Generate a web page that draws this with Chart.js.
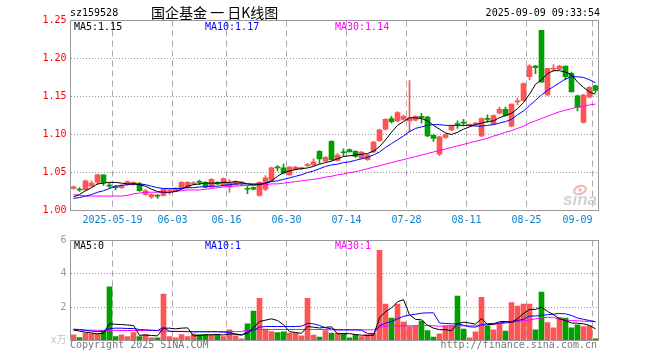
<!DOCTYPE html>
<html><head><meta charset="utf-8">
<script src="https://cdn.jsdelivr.net/npm/chart.js@4.4.1/dist/chart.umd.min.js"></script>
<style>
html,body{margin:0;padding:0;background:#fff;width:660px;height:360px;overflow:hidden}
#c1{position:absolute;left:0;top:0;width:660px;height:235px}
#c2{position:absolute;left:0;top:230px;width:660px;height:130px}
</style></head><body>
<canvas id="c1" width="660" height="235"></canvas>
<canvas id="c2" width="660" height="130"></canvas>
<script>
// ---------- DATA ----------
const dates = ['2025-05-08','2025-05-09','2025-05-12','2025-05-13','2025-05-14','2025-05-15','2025-05-16','2025-05-19','2025-05-20','2025-05-21',
'2025-05-22','2025-05-23','2025-05-26','2025-05-27','2025-05-28','2025-05-29','2025-05-30','2025-06-03','2025-06-04','2025-06-05',
'2025-06-06','2025-06-09','2025-06-10','2025-06-11','2025-06-12','2025-06-13','2025-06-16','2025-06-17','2025-06-18','2025-06-19',
'2025-06-20','2025-06-23','2025-06-24','2025-06-25','2025-06-26','2025-06-27','2025-06-30','2025-07-01','2025-07-02','2025-07-03',
'2025-07-04','2025-07-07','2025-07-08','2025-07-09','2025-07-10','2025-07-11','2025-07-14','2025-07-15','2025-07-16','2025-07-17',
'2025-07-18','2025-07-21','2025-07-22','2025-07-23','2025-07-24','2025-07-25','2025-07-28','2025-07-29','2025-07-30','2025-07-31',
'2025-08-01','2025-08-04','2025-08-05','2025-08-06','2025-08-07','2025-08-08','2025-08-11','2025-08-12','2025-08-13','2025-08-14',
'2025-08-15','2025-08-18','2025-08-19','2025-08-20','2025-08-21','2025-08-22','2025-08-25','2025-08-26','2025-08-27','2025-08-28',
'2025-08-29','2025-09-01','2025-09-02','2025-09-03','2025-09-04','2025-09-05','2025-09-08','2025-09-09'];

const open = [1.029,1.028,1.027,1.032,1.037,1.047,1.033,1.031,1.030,1.034,
1.034,1.035,1.021,1.018,1.020,1.020,1.026,1.026,1.029,1.030,
1.035,1.038,1.037,1.031,1.037,1.033,1.031,1.034,1.036,1.029,
1.030,1.020,1.028,1.040,1.057,1.056,1.047,1.054,1.055,1.059,
1.060,1.078,1.065,1.091,1.066,1.077,1.080,1.078,1.069,1.067,
1.077,1.092,1.107,1.121,1.118,1.120,1.118,1.119,1.124,1.123,
1.099,1.074,1.096,1.106,1.114,1.116,1.112,1.113,1.098,1.121,
1.114,1.128,1.133,1.111,1.143,1.145,1.176,1.190,1.237,1.152,
1.186,1.186,1.190,1.180,1.151,1.116,1.149,1.164];
const high = [1.032,1.030,1.040,1.039,1.048,1.047,1.036,1.033,1.034,1.039,
1.038,1.037,1.028,1.022,1.021,1.029,1.028,1.030,1.038,1.038,
1.038,1.040,1.038,1.042,1.038,1.043,1.041,1.039,1.038,1.032,
1.031,1.038,1.046,1.057,1.059,1.061,1.058,1.058,1.057,1.062,
1.068,1.079,1.071,1.092,1.075,1.081,1.081,1.079,1.078,1.074,
1.091,1.107,1.121,1.124,1.130,1.126,1.171,1.125,1.128,1.124,
1.100,1.098,1.101,1.112,1.118,1.120,1.114,1.116,1.122,1.126,
1.126,1.136,1.136,1.140,1.148,1.168,1.192,1.191,1.237,1.187,
1.192,1.191,1.190,1.182,1.152,1.153,1.163,1.165];
const low = [1.028,1.025,1.026,1.031,1.034,1.033,1.029,1.027,1.029,1.033,
1.033,1.025,1.020,1.016,1.016,1.019,1.021,1.025,1.028,1.029,
1.034,1.034,1.030,1.030,1.034,1.032,1.024,1.033,1.032,1.022,
1.027,1.019,1.026,1.039,1.052,1.048,1.046,1.053,1.054,1.058,
1.059,1.062,1.064,1.066,1.065,1.072,1.077,1.070,1.068,1.066,
1.076,1.091,1.106,1.115,1.117,1.119,1.103,1.118,1.115,1.097,
1.091,1.072,1.095,1.105,1.108,1.111,1.111,1.112,1.097,1.116,
1.113,1.127,1.124,1.110,1.139,1.144,1.172,1.180,1.169,1.151,
1.183,1.185,1.172,1.156,1.131,1.115,1.148,1.155];
const close = [1.031,1.027,1.039,1.036,1.047,1.037,1.032,1.030,1.033,1.038,
1.037,1.026,1.026,1.021,1.019,1.028,1.027,1.029,1.037,1.037,
1.036,1.037,1.031,1.041,1.035,1.042,1.036,1.038,1.037,1.028,
1.028,1.037,1.043,1.056,1.056,1.049,1.057,1.057,1.056,1.060,
1.064,1.068,1.070,1.067,1.073,1.076,1.077,1.071,1.077,1.073,
1.090,1.106,1.120,1.117,1.129,1.124,1.122,1.124,1.122,1.098,
1.095,1.097,1.100,1.111,1.113,1.115,1.113,1.115,1.121,1.120,
1.125,1.133,1.125,1.140,1.144,1.167,1.190,1.188,1.169,1.187,
1.187,1.190,1.176,1.156,1.136,1.152,1.162,1.158];

const ma5 = [1.018,1.021,1.026,1.030,1.035,1.036,1.037,1.037,1.036,1.035,
1.035,1.034,1.032,1.028,1.025,1.024,1.024,1.025,1.028,1.032,
1.034,1.035,1.036,1.036,1.036,1.037,1.037,1.038,1.037,1.035,
1.034,1.034,1.036,1.039,1.045,1.050,1.052,1.054,1.055,1.056,
1.058,1.061,1.063,1.065,1.068,1.071,1.072,1.073,1.074,1.075,
1.078,1.084,1.093,1.103,1.112,1.117,1.122,1.122,1.121,1.118,
1.112,1.107,1.102,1.100,1.103,1.107,1.110,1.113,1.115,1.117,
1.118,1.122,1.125,1.128,1.134,1.142,1.153,1.166,1.172,1.180,
1.184,1.184,1.182,1.179,1.169,1.162,1.156,1.153];
const ma10 = [1.016,1.017,1.019,1.021,1.024,1.026,1.029,1.032,1.033,1.034,
1.035,1.035,1.034,1.032,1.030,1.029,1.029,1.029,1.029,1.030,
1.030,1.031,1.031,1.032,1.032,1.033,1.034,1.035,1.035,1.035,
1.035,1.035,1.036,1.038,1.039,1.041,1.043,1.045,1.047,1.050,
1.052,1.055,1.058,1.060,1.061,1.063,1.064,1.066,1.068,1.070,
1.073,1.077,1.083,1.088,1.093,1.098,1.104,1.108,1.110,1.112,
1.113,1.113,1.112,1.112,1.112,1.112,1.112,1.111,1.111,1.112,
1.113,1.115,1.117,1.120,1.126,1.131,1.138,1.145,1.152,1.158,
1.163,1.168,1.173,1.176,1.176,1.175,1.172,1.168];
const ma30 = [1.021,1.020,1.019,1.019,1.019,1.019,1.019,1.019,1.019,1.020,
1.022,1.023,1.024,1.024,1.024,1.024,1.024,1.025,1.026,1.027,
1.027,1.027,1.028,1.029,1.030,1.031,1.032,1.032,1.033,1.033,
1.033,1.034,1.034,1.035,1.035,1.036,1.037,1.038,1.039,1.040,
1.041,1.042,1.044,1.045,1.047,1.048,1.050,1.051,1.053,1.055,
1.057,1.059,1.061,1.063,1.065,1.067,1.069,1.071,1.073,1.075,
1.077,1.079,1.081,1.083,1.085,1.087,1.089,1.091,1.093,1.095,
1.098,1.100,1.103,1.105,1.108,1.111,1.115,1.118,1.121,1.124,
1.127,1.130,1.132,1.134,1.136,1.137,1.139,1.140];

// volume, unit: 万
const volume = [0.34,0.18,0.44,0.40,0.40,0.60,3.22,0.24,0.34,0.24,
0.48,0.24,0.36,0.16,0.16,2.79,0.24,0.16,0.36,0.24,
0.40,0.36,0.36,0.36,0.34,0.24,0.64,0.28,0.10,1.00,
1.77,2.53,0.68,0.54,0.48,0.52,0.44,0.44,0.28,2.53,
0.32,0.20,0.60,0.44,0.44,0.40,0.16,0.36,0.24,0.36,
0.44,5.41,2.19,1.35,2.19,1.11,0.84,0.88,1.17,0.60,
0.20,0.40,0.88,0.88,2.67,0.68,0.16,0.52,2.59,0.88,
0.64,1.03,0.56,2.27,2.07,2.19,2.19,0.64,2.90,1.07,
0.76,1.39,1.35,0.76,0.94,0.84,0.88,0.10];
const vma5 = [0.64,0.56,0.50,0.45,0.40,0.44,1.01,0.97,0.96,0.93,
0.90,0.31,0.33,0.30,0.28,0.74,0.74,0.70,0.74,0.76,
0.28,0.30,0.34,0.34,0.36,0.33,0.39,0.37,0.32,0.45,
0.76,1.14,1.22,1.30,1.20,0.95,0.53,0.48,0.43,0.84,
0.80,0.75,0.79,0.82,0.40,0.42,0.41,0.36,0.32,0.30,
0.31,1.36,1.73,1.95,2.32,2.45,1.54,1.27,1.24,0.92,
0.74,0.65,0.65,0.59,1.01,1.10,1.05,0.98,1.32,0.97,
0.96,1.13,1.14,1.08,1.31,1.62,1.86,1.87,2.00,1.75,
1.55,1.30,1.20,1.05,1.04,1.00,0.90,0.70];
const vma10 = [0.68,0.66,0.62,0.56,0.54,0.55,0.72,0.74,0.74,0.72,
0.72,0.66,0.64,0.62,0.60,0.78,0.55,0.54,0.54,0.53,
0.52,0.52,0.52,0.52,0.52,0.50,0.48,0.40,0.34,0.50,
0.62,0.80,0.84,0.84,0.84,0.84,0.84,0.84,0.86,1.03,
1.00,0.90,0.76,0.70,0.64,0.64,0.64,0.64,0.62,0.42,
0.40,0.88,1.04,1.14,1.30,1.45,1.52,1.58,1.64,1.66,
1.66,1.05,1.02,1.00,1.00,0.92,0.82,0.80,0.96,1.00,
1.03,1.05,1.10,1.13,1.20,1.27,1.47,1.47,1.50,1.55,
1.58,1.62,1.60,1.50,1.35,1.27,1.20,1.13];
const vma30 = [0.64,0.63,0.62,0.62,0.61,0.61,0.61,0.61,0.60,0.60,
0.60,0.60,0.60,0.60,0.60,0.56,0.55,0.55,0.55,0.54,
0.54,0.54,0.54,0.54,0.54,0.54,0.54,0.54,0.54,0.62,
0.64,0.66,0.66,0.66,0.66,0.66,0.66,0.66,0.66,0.66,
0.66,0.66,0.66,0.64,0.64,0.64,0.64,0.64,0.64,0.64,
0.64,0.80,0.86,0.88,0.88,0.88,0.88,0.88,0.90,0.90,
0.88,0.86,0.86,0.88,0.88,0.88,0.88,0.88,0.90,0.93,
0.98,1.00,1.05,1.10,1.13,1.20,1.23,1.30,1.36,1.39,
1.39,1.25,1.23,1.20,1.18,1.16,1.14,1.13];

const tickDates = ['2025-05-19','2025-06-03','2025-06-16','2025-06-30','2025-07-14','2025-07-28','2025-08-11','2025-08-25','2025-09-09'];
const tickLabels = ['2025-05-19','06-03','06-16','06-30','07-14','07-28','08-11','08-25','09-09'];
const priceTicks = [1.00,1.05,1.10,1.15,1.20,1.25];
const volTicks = [0,2,4,6];
const volTickLabels = ['x万','2','4','6'];

const stockCode = 'sz159528';
const chartTitle = '国企基金 一 日K线图';
const stamp = '2025-09-09 09:33:54';
const priceMALabels = ['MA5:1.15','MA10:1.17','MA30:1.14'];
const volMALabels = ['MA5:0','MA10:1','MA30:1'];
const copyright = 'Copyright 2025 SINA.COM';
const siteUrl = 'http://finance.sina.com.cn';

// ---------- STYLE ----------
const RED = '#ff5454', GREEN = '#00a000';
const MONO = '"DejaVu Sans Mono","Liberation Mono","Noto Sans CJK SC",monospace';
const MA_COLORS = ['#000000','#0000ff','#ff00ff'];
const candleColor = close.map((c,i) => c >= open[i] ? RED : GREEN);
const pts = arr => arr.map((v,i) => ({x:i, y:v}));

const xTickVals = [-0.5].concat(tickDates.map(d => dates.indexOf(d) - 0.5));
const xTickText = {};
xTickVals.forEach((v,j) => { xTickText[String(v)] = j === 0 ? '' : tickLabels[j-1]; });

const framePlugin = {
  id:'frame',
  afterDraw(chart){
    const {ctx, chartArea:a} = chart;
    ctx.save();
    ctx.setLineDash([]);
    ctx.strokeStyle = '#999';
    ctx.lineWidth = 1;
    ctx.strokeRect(a.left, a.top, a.right - a.left, a.bottom - a.top);
    ctx.restore();
  }
};

function maLine(arr, color, order){
  return {type:'line', data:pts(arr), borderColor:color, backgroundColor:color, borderWidth:1,
          pointRadius:0, tension:0, order:order, fill:false};
}

function xScale(showLabels, h){
  return {
    type:'linear', min:-0.5, max:87.5, offset:false,
    afterBuildTicks: s => { s.ticks = xTickVals.map(v => ({value:v})); },
    afterFit: s => { s.height = h; },
    grid:{ color: c => c.index === 0 ? 'rgba(0,0,0,0)' : '#aaa', lineWidth:1, drawTicks:false, offset:false },
    border:{ display:false, dash:[6,4] },
    ticks:{ display:showLabels, autoSkip:false, maxRotation:0, minRotation:0, align:'inner', padding:4,
            color:'#0a7fc8', font:{family:MONO, size:10},
            callback: v => (xTickText[String(v)] !== undefined ? xTickText[String(v)] : '') }
  };
}

// ---------- PRICE CHART ----------
const textPlugin1 = {
  id:'text1',
  afterDraw(chart){
    const ctx = chart.ctx;
    ctx.save();
    ctx.textBaseline = 'middle';
    ctx.font = '10px ' + MONO;
    ctx.fillStyle = '#000';
    ctx.textAlign = 'left';
    ctx.fillText(stockCode, 70, 13);
    ctx.textAlign = 'right';
    ctx.fillText(stamp, 600, 13);
    ctx.textAlign = 'left';
    ctx.font = '14px "Noto Sans CJK SC", sans-serif';
    ctx.fillText(chartTitle, 151, 13);
    ctx.font = '10px ' + MONO;
    const xs = [74, 205, 335];
    priceMALabels.forEach((t,i) => { ctx.fillStyle = MA_COLORS[i]; ctx.fillText(t, xs[i], 27); });
    // sina watermark
    ctx.strokeStyle = '#f3b4b4';
    ctx.lineWidth = 2;
    ctx.beginPath();
    ctx.ellipse(580, 190, 6, 4, -0.35, 0, Math.PI * 2);
    ctx.stroke();
    ctx.fillStyle = '#f3b4b4';
    ctx.beginPath(); ctx.arc(580, 190, 1.8, 0, Math.PI * 2); ctx.fill();
    ctx.font = 'italic bold 17px "Liberation Sans", Arial, sans-serif';
    ctx.fillStyle = '#d2d2d2';
    ctx.textAlign = 'right';
    ctx.textBaseline = 'alphabetic';
    ctx.fillText('sina', 597, 205);
    ctx.restore();
  }
};

new Chart(document.getElementById('c1'), {
  type:'bar',
  data:{ datasets:[
    maLine(ma5, MA_COLORS[0], 0),
    maLine(ma10, MA_COLORS[1], 1),
    maLine(ma30, MA_COLORS[2], 2),
    {type:'bar', data: dates.map((d,i) => ({x:i, y:[open[i], close[i]]})), backgroundColor:candleColor,
     borderWidth:0, barThickness:5, minBarLength:1, grouped:false, order:3},
    {type:'bar', data: dates.map((d,i) => ({x:i, y:[low[i], high[i]]})), backgroundColor:candleColor,
     borderWidth:0, barThickness:1, minBarLength:1, grouped:false, order:4}
  ]},
  options:{
    responsive:false, animation:false, devicePixelRatio:1, events:[],
    layout:{ padding:{left:0.5, right:61.5, top:20.5, bottom:0} },
    plugins:{ legend:{display:false}, tooltip:{enabled:false} },
    scales:{
      x: xScale(true, 24.5),
      y:{ type:'linear', min:1.0, max:1.25,
          afterBuildTicks: s => { s.ticks = priceTicks.map(v => ({value:v})); },
          afterFit: s => { s.width = 70; },
          grid:{ color: c => (c.index === 0 || c.index === priceTicks.length - 1) ? 'rgba(0,0,0,0)' : '#999', drawTicks:false },
          border:{ display:false, dash:[1,2] },
          ticks:{ padding:4, color:'#ff0000', font:{family:MONO, size:10}, callback: v => Number(v).toFixed(2) } }
    }
  },
  plugins:[framePlugin, textPlugin1]
});

// ---------- VOLUME CHART ----------
const textPlugin2 = {
  id:'text2',
  afterDraw(chart){
    const ctx = chart.ctx;
    ctx.save();
    ctx.textBaseline = 'middle';
    ctx.font = '10px ' + MONO;
    const xs = [74, 205, 335];
    ctx.textAlign = 'left';
    volMALabels.forEach((t,i) => { ctx.fillStyle = MA_COLORS[i]; ctx.fillText(t, xs[i], 16); });
    ctx.fillStyle = '#777';
    ctx.fillText(copyright, 70, 115.5);
    ctx.textAlign = 'right';
    ctx.fillText(siteUrl, 597, 115.5);
    ctx.restore();
  }
};

new Chart(document.getElementById('c2'), {
  type:'bar',
  data:{ datasets:[
    maLine(vma5, MA_COLORS[0], 0),
    maLine(vma10, MA_COLORS[1], 1),
    maLine(vma30, MA_COLORS[2], 2),
    {type:'bar', data: pts(volume), backgroundColor:candleColor, borderWidth:0, barThickness:5, grouped:false, order:3}
  ]},
  options:{
    responsive:false, animation:false, devicePixelRatio:1, events:[],
    layout:{ padding:{left:0.5, right:61.5, top:10.5, bottom:19.5} },
    plugins:{ legend:{display:false}, tooltip:{enabled:false} },
    scales:{
      x: xScale(false, 0),
      y:{ type:'linear', min:0, max:6,
          afterBuildTicks: s => { s.ticks = volTicks.map(v => ({value:v})); },
          afterFit: s => { s.width = 70; },
          grid:{ color: c => (c.index === 0 || c.index === volTicks.length - 1) ? 'rgba(0,0,0,0)' : '#999', drawTicks:false },
          border:{ display:false, dash:[1,2] },
          ticks:{ padding:4, color: c => c.index === 0 ? '#c4c4c4' : '#999', font:{family:MONO, size:10},
                  callback: (v, i) => volTickLabels[i] } }
    }
  },
  plugins:[framePlugin, textPlugin2]
});
</script>
</body></html>
